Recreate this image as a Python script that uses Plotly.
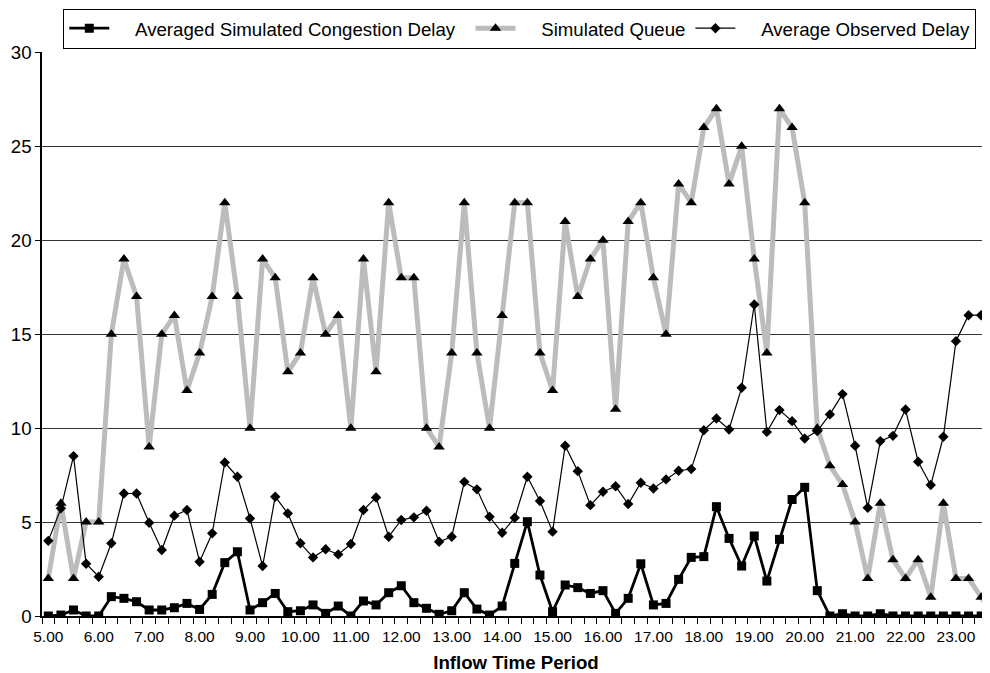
import plotly.graph_objects as go

tick_labels = ["5.00", "6.00", "7.00", "8.00", "9.00", "10.00", "11.00", "12.00", "13.00",
               "14.00", "15.00", "16.00", "17.00", "18.00", "19.00", "20.00", "21.00",
               "22.00", "23.00"]

congestion_delay = [0, 0.05, 0.32, 0, 0, 1.03, 0.94, 0.76, 0.32, 0.32,
                    0.44, 0.67, 0.35, 1.15, 2.84, 3.42, 0.32, 0.71, 1.2, 0.23,
                    0.28, 0.59, 0.14, 0.53, 0, 0.8, 0.59, 1.24, 1.61, 0.71,
                    0.41, 0.09, 0.28, 1.24, 0.37, 0.05, 0.53, 2.8, 5.02, 2.18,
                    0.23, 1.65, 1.51, 1.2, 1.35, 0.14, 0.94, 2.78, 0.59, 0.67,
                    1.95, 3.12, 3.16, 5.82, 4.13, 2.66, 4.26, 1.86, 4.08, 6.2,
                    6.85, 1.35, 0, 0.12, 0, 0, 0.12, 0, 0, 0,
                    0, 0, 0, 0, 0, 0]

simulated_queue = [2, 6, 2, 5, 5, 15, 19, 17, 9, 15,
                   16, 12, 14, 17, 22, 17, 10, 19, 18, 13,
                   14, 18, 15, 16, 10, 19, 13, 22, 18, 18,
                   10, 9, 14, 22, 14, 10, 16, 22, 22, 14,
                   12, 21, 17, 19, 20, 11, 21, 22, 18, 15,
                   23, 22, 26, 27, 23, 25, 19, 14, 27, 26,
                   22, 10, 8, 7, 5, 2, 6, 3, 2, 3,
                   1, 6, 2, 2, 1, 0]

observed_delay = [4.0, 5.73, 8.51, 2.78, 2.09, 3.87, 6.52, 6.52, 4.96, 3.51,
                  5.34, 5.64, 2.89, 4.4, 8.17, 7.41, 5.19, 2.66, 6.35, 5.46,
                  3.87, 3.12, 3.55, 3.28, 3.83, 5.64, 6.31, 4.22, 5.11, 5.25,
                  5.6, 3.95, 4.22, 7.14, 6.74, 5.28, 4.43, 5.23, 7.41, 6.12,
                  4.49, 9.06, 7.71, 5.9, 6.61, 6.91, 5.96, 7.09, 6.79, 7.27,
                  7.73, 7.82, 9.89, 10.51, 9.93, 12.15, 16.58, 9.8, 10.96, 10.37,
                  9.45, 9.84, 10.73, 11.81, 9.06, 5.76, 9.31, 9.59, 10.99, 8.21,
                  6.97, 9.54, 14.63, 16.01, 16.01, None]

periods = list(range(len(simulated_queue)))
label_pos = [4 * k for k in range(len(tick_labels))]

FONT = "Liberation Sans, Arial, sans-serif"
FS = 18.67
NB = "\u00a0"

fig = go.Figure()

fig.add_trace(go.Scatter(
    x=periods, y=simulated_queue, name=NB * 4 + "Simulated Queue",
    mode="lines+markers",
    line=dict(color="#bcbcbc", width=5),
    marker=dict(symbol="triangle-up", size=10, color="black"),
    legendrank=2,
))
fig.add_trace(go.Scatter(
    x=periods, y=observed_delay, name=NB * 4 + "Average Observed Delay",
    mode="lines+markers",
    line=dict(color="black", width=1.2),
    marker=dict(symbol="diamond", size=8, color="black"),
    legendrank=3,
))
fig.add_trace(go.Scatter(
    x=periods, y=congestion_delay,
    name=NB * 4 + "Averaged Simulated Congestion Delay" + NB * 2,
    mode="lines+markers",
    line=dict(color="black", width=2.8),
    marker=dict(symbol="square", size=9, color="black"),
    legendrank=1,
))

# the page body has an 8px margin, so the figure is offset by 8px
fig.update_layout(
    width=982, height=665,
    margin=dict(l=34, r=0, t=44, b=57, autoexpand=False),
    paper_bgcolor="white", plot_bgcolor="white",
    font=dict(family=FONT, color="black"),
    legend=dict(
        orientation="h", x=0.504, xanchor="center", y=1.077, yanchor="top",
        bordercolor="black", borderwidth=1, bgcolor="white",
        font=dict(size=FS, family=FONT), itemwidth=40,
    ),
    xaxis=dict(
        range=[-0.5, 74.7],
        tickmode="array", tickvals=label_pos, ticktext=tick_labels,
        ticks="", tickfont=dict(size=15.5), ticklabelstandoff=6,
        showgrid=False, zeroline=False,
        showline=True, linecolor="black", linewidth=1.5,
        minor=dict(tick0=-0.5, dtick=1, ticks="outside", ticklen=6,
                   tickcolor="black", tickwidth=1, showgrid=False),
        title=dict(text="<b>Inflow Time Period</b>", font=dict(size=FS), standoff=12),
    ),
    yaxis=dict(
        range=[0, 30.02], tickmode="array", tickvals=[0, 5, 10, 15, 20, 25, 30],
        ticks="outside", ticklen=5, tickcolor="black",
        tickfont=dict(size=FS),
        showgrid=True, gridcolor="#333333", gridwidth=1,
        zeroline=False,
        showline=True, linecolor="black", linewidth=1.5,
    ),
)

fig.write_html("out.html")
